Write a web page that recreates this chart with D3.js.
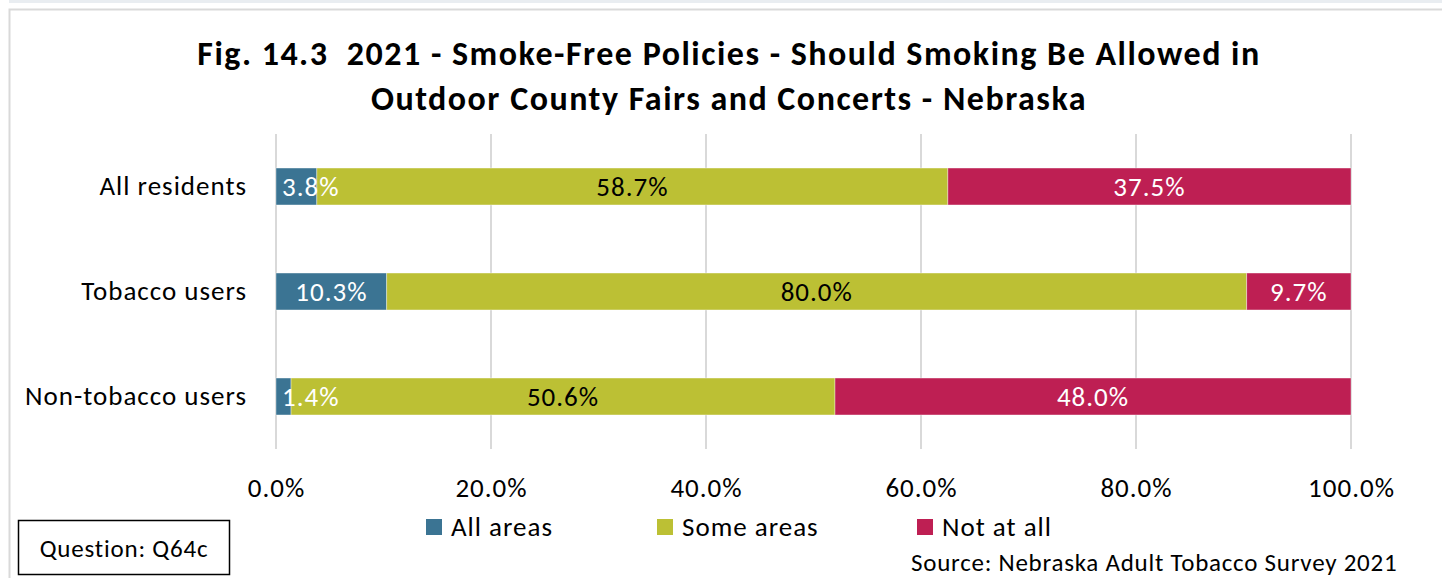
<!DOCTYPE html>
<html><head><meta charset="utf-8">
<script src="https://cdn.jsdelivr.net/npm/d3@7"></script>
<style>
html,body{margin:0;padding:0;background:#fff;}
svg{display:block;}
text{font-family:Carlito,Calibri,Lato,sans-serif;}
.title{white-space:pre;}
</style></head>
<body>
<svg id="chart" width="1442" height="578"></svg>
<script>
const categories = ["All residents", "Tobacco users", "Non-tobacco users"];
const seriesNames = ["All areas", "Some areas", "Not at all"];
const allAreas = [3.8, 10.3, 1.4];
const someAreas = [58.7, 80.0, 50.6];
const notAtAll = [37.5, 9.7, 48.0];
const tickValues = [0, 20, 40, 60, 80, 100];
const titleLines = ["Fig. 14.3  2021 - Smoke-Free Policies - Should Smoking Be Allowed in",
                    "Outdoor County Fairs and Concerts - Nebraska"];
const colors = ["#3b7493", "#bcc034", "#be1f53"];
const labelColors = ["#ffffff", "#000000", "#ffffff"];

const FS = 27, LS = 1;
const svg = d3.select("#chart");
// top strip & frame
svg.append("rect").attr("x", 9).attr("y", 0).attr("width", 1433).attr("height", 3).attr("fill", "#e9edf1");
svg.append("path").attr("d", "M9.5,578 V9.5 H1442").attr("fill", "none").attr("stroke", "#d9d9d9").attr("stroke-width", 2);

const x = d3.scaleLinear().domain([0, 100]).range([276, 1351]);
const y = d3.scaleBand().domain(categories).range([134, 449]).paddingInner(0.648).paddingOuter(0.324);

// title
svg.selectAll("text.title").data(titleLines).join("text")
  .attr("class", "title").attr("x", 729).attr("y", (d, i) => 65 + i * 45)
  .attr("text-anchor", "middle").attr("font-size", 34).attr("font-weight", "bold")
  .attr("letter-spacing", 1.5).attr("fill", "#000")
  .text(d => d);

// gridlines
svg.append("g").selectAll("line").data(tickValues).join("line")
  .attr("x1", d => x(d)).attr("x2", d => x(d)).attr("y1", 134).attr("y2", 449)
  .attr("stroke", "#d9d9d9").attr("stroke-width", 2);

// x axis labels
const xAxis = d3.axisBottom(x).tickValues(tickValues).tickSize(0).tickPadding(0)
  .tickFormat(d => d.toFixed(1) + "%");
const gx = svg.append("g").attr("transform", "translate(0,478)").call(xAxis);
gx.select(".domain").remove();
gx.selectAll("text").attr("font-size", FS).attr("letter-spacing", LS).attr("fill", "#000")
  .attr("font-family", "Carlito,Calibri,Lato,sans-serif");

// y axis labels
const yAxis = d3.axisLeft(y).tickSize(0).tickPadding(29);
const gy = svg.append("g").attr("transform", "translate(276,0)").call(yAxis);
gy.select(".domain").remove();
gy.selectAll("text").attr("font-size", FS).attr("letter-spacing", LS).attr("fill", "#000")
  .attr("font-family", "Carlito,Calibri,Lato,sans-serif");

// stacked data
const rows = categories.map((c, i) => ({cat: c, "All areas": allAreas[i], "Some areas": someAreas[i], "Not at all": notAtAll[i]}));
const stacked = d3.stack().keys(seriesNames)(rows);

const layers = svg.append("g").selectAll("g").data(stacked).join("g")
  .attr("fill", (d, i) => colors[i]);
layers.selectAll("rect").data(d => d).join("rect")
  .attr("x", d => x(d[0])).attr("width", d => x(d[1]) - x(d[0]))
  .attr("y", d => y(d.data.cat)).attr("height", y.bandwidth())
  .attr("stroke", "#ffffff").attr("stroke-opacity", 0.5).attr("stroke-width", 0.75);

// labels
const lg = svg.append("g");
stacked.forEach((layer, si) => {
  layer.forEach(d => {
    const val = d[1] - d[0];
    const t = lg.append("text")
      .attr("y", y(d.data.cat) + y.bandwidth() / 2)
      .attr("dy", "0.35em").attr("font-size", FS).attr("letter-spacing", LS).attr("fill", labelColors[si])
      .attr("text-anchor", "middle")
      .text(val.toFixed(1) + "%");
    const w = t.node().getComputedTextLength();
    let cx = (x(d[0]) + x(d[1])) / 2;
    const minX = x(0) + 6 + w / 2;
    if (cx < minX) cx = minX;
    t.attr("x", cx);
  });
});

// legend
const legendX = [426, 657, 917];
const lgd = svg.append("g").selectAll("g").data(seriesNames).join("g")
  .attr("transform", (d, i) => `translate(${legendX[i]},519)`);
lgd.append("rect").attr("width", 16).attr("height", 16).attr("fill", (d, i) => colors[i]);
lgd.append("text").attr("x", 25).attr("y", 8).attr("dy", "0.35em").attr("font-size", FS)
  .attr("letter-spacing", LS).attr("fill", "#000").text(d => d);

// question box
svg.append("rect").attr("x", 18.5).attr("y", 520.5).attr("width", 211).attr("height", 54)
  .attr("fill", "#fff").attr("stroke", "#000").attr("stroke-width", 1.5);
svg.append("text").attr("x", 124).attr("y", 548).attr("dy", "0.35em").attr("text-anchor", "middle")
  .attr("font-size", 25).attr("letter-spacing", 0.8).attr("fill", "#000").text("Question: Q64c");

// source
svg.append("text").attr("x", 911).attr("y", 571).attr("font-size", 25).attr("letter-spacing", 0.75).attr("fill", "#000")
  .text("Source: Nebraska Adult Tobacco Survey 2021");
</script>
</body></html>
